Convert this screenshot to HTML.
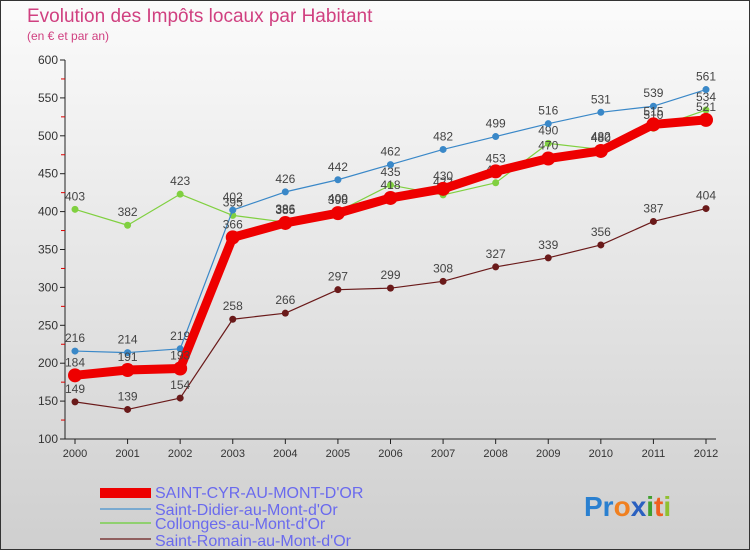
<!DOCTYPE html>
<html><head><meta charset="utf-8"><style>
body{margin:0}
#c{width:750px;height:550px;position:relative;font-family:"Liberation Sans",sans-serif;}
</style></head><body>
<div id="c">
<svg width="750" height="550" xmlns="http://www.w3.org/2000/svg" id="svg">
<defs><linearGradient id="bg" x1="0" y1="0" x2="0" y2="1"><stop offset="0" stop-color="#fbfbfb"/><stop offset="1" stop-color="#cfcfcf"/></linearGradient></defs>
<rect x="0.5" y="0.5" width="749" height="549" fill="url(#bg)" stroke="#333"/>
<text x="27" y="22" font-size="19" fill="#d04080">Evolution des Impôts locaux par Habitant</text>
<text x="27" y="40" font-size="12" fill="#d04080">(en € et par an)</text>
<g id="axes"></g><g id="series"></g>
<g font-size="16" fill="#6a6aee">
<rect x="100" y="488" width="51" height="10" fill="#e00"/>
<text x="155" y="498">SAINT-CYR-AU-MONT-D'OR</text>
<rect x="100" y="508" width="51" height="2" fill="#7aaad0"/>
<text x="155" y="515">Saint-Didier-au-Mont-d'Or</text>
<rect x="100" y="522" width="51" height="2" fill="#90d070"/>
<text x="155" y="529">Collonges-au-Mont-d'Or</text>
<rect x="100" y="538" width="51" height="2" fill="#906060"/>
<text x="155" y="546">Saint-Romain-au-Mont-d'Or</text>
</g>
<g font-size="28" font-weight="bold">
<text x="584" y="516"><tspan fill="#2a80d0">Pr</tspan><tspan fill="#f08020">o</tspan><tspan fill="#2a60c0">x</tspan><tspan fill="#40a030">i</tspan><tspan fill="#f06020">t</tspan><tspan fill="#90c030">i</tspan></text>
</g>
</svg>
</div>
<script>
const years=[2000,2001,2002,2003,2004,2005,2006,2007,2008,2009,2010,2011,2012];
const saintCyr=[184,191,193,366,385,398,418,430,453,470,480,515,521];
const saintDidier=[216,214,219,402,426,442,462,482,499,516,531,539,561];
const collonges=[403,382,423,395,386,400,435,422,438,490,482,510,534];
const saintRomain=[149,139,154,258,266,297,299,308,327,339,356,387,404];
const yTicks=[100,150,200,250,300,350,400,450,500,550,600];
const NS="http://www.w3.org/2000/svg";
function xs(i){return 75+i*(706-75)/(years.length-1);}
function ys(v){return 439-(v-100)*(439-60)/500;}
function mk(tag,attrs,parent){const e=document.createElementNS(NS,tag);for(const k in attrs)e.setAttribute(k,attrs[k]);parent.appendChild(e);return e;}
const ax=document.getElementById('axes');
let l=mk('line',{x1:65,y1:60,x2:65,y2:439,stroke:'#222'},ax);


l=mk('line',{x1:65,y1:439,x2:716,y2:439,stroke:'#222'},ax);


yTicks.forEach((v,i)=>{
  mk('line',{x1:60,y1:ys(v),x2:65,y2:ys(v),stroke:'#222'},ax);
  if(i<yTicks.length-1)mk('line',{x1:61,y1:ys(v+25),x2:65,y2:ys(v+25),stroke:'#d00'},ax);
  const t=mk('text',{x:58,y:ys(v)+4,'font-size':12,'text-anchor':'end',fill:'#333'},ax);
  t.textContent=v;
  
  
});
years.forEach((y,i)=>{
  mk('line',{x1:xs(i),y1:439,x2:xs(i),y2:444,stroke:'#222'},ax);
  const t=mk('text',{x:xs(i),y:457,'font-size':11,'text-anchor':'middle',fill:'#333'},ax);
  t.textContent=y;
  
  
});
const sg=document.getElementById('series');
function draw(vals,name,color,lw,r){
  const g=mk('g',{},sg);
  
  
  const p=mk('polyline',{points:vals.map((v,i)=>xs(i)+','+ys(v)).join(' '),fill:'none',stroke:color,'stroke-width':lw,'stroke-linejoin':'round'},g);
  
  
  vals.forEach((v,i)=>{
    const c=mk('circle',{cx:xs(i),cy:ys(v),r:r,fill:color},g);
    
    
    const t=mk('text',{x:xs(i),y:ys(v)-9,'font-size':12,'text-anchor':'middle',fill:'#444'},g);
    t.textContent=v;
    
    
  });
}
draw(saintRomain,'saint-romain','#6a1a1a',1.2,3.5);
draw(collonges,'collonges','#80d040',1.2,3.5);
draw(saintDidier,'saint-didier','#3a88c8',1.2,3.5);
draw(saintCyr,'saint-cyr','#ee0000',9,7);
</script>
</body></html>
